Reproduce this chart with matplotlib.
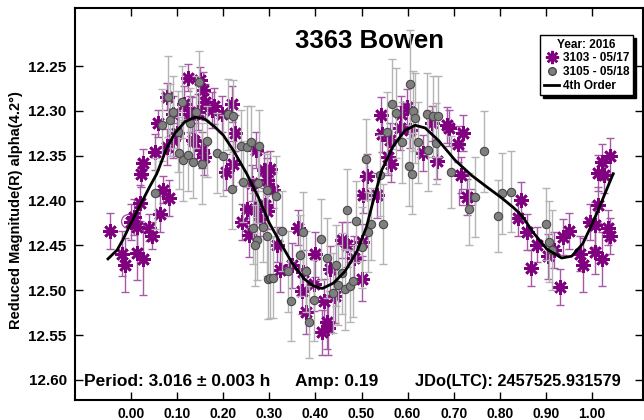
import matplotlib.pyplot as plt
from matplotlib.lines import Line2D

# 3103 - 05/17 (purple)
ph_a = [-0.046, -0.019, -0.013, 0.001, 0.007, 0.012, 0.014, 0.020, 0.027, 0.040,
        0.046, 0.063, 0.083, 0.070, 0.021, 0.027, 0.052, 0.059, 0.077, 0.092,
        0.116, 0.124, 0.132, 0.135, 0.150, 0.153, 0.157, 0.158, 0.160, 0.179,
        0.175, 0.197, 0.219, 0.092, 0.128, 0.146, 0.226, 0.099, 0.137, 0.271,
        0.077, 0.207, 0.222, 0.289, 0.263, 0.302, 0.294, 0.307, 0.240, 0.251,
        0.257, 0.269, 0.280, 0.291, 0.294, 0.316, 0.323, 0.349, 0.363, 0.374,
        0.370, 0.379, 0.397, 0.399, 0.419, 0.432, 0.443, 0.425, 0.428, 0.414,
        0.457, 0.468, 0.484, 0.502, 0.501, 0.511, 0.504, 0.533, 0.542, 0.545,
        0.558, 0.565, 0.562, 0.586, 0.598, 0.584, 0.605, 0.634, 0.652, 0.663,
        0.685, 0.690, 0.710, 0.721, 0.716, 0.728, 0.846, 0.840, 0.860, 0.880,
        0.868, 0.905, 0.918, 0.931, 0.936, 0.951, 0.974, 0.981, 0.996, 1.007,
        1.012, 1.007, 1.021, 1.034, 1.039, 1.014, 1.021, 1.040, 1.026]
mag_a = [12.434, 12.459, 12.472, 12.424, 12.418, 12.429, 12.458, 12.403, 12.465, 12.430,
         12.439, 12.415, 12.397, 12.388, 12.370, 12.358, 12.346, 12.314, 12.284, 12.333,
         12.292, 12.263, 12.305, 12.333, 12.266, 12.344, 12.277, 12.351, 12.290, 12.295,
         12.299, 12.303, 12.292, 12.303, 12.303, 12.301, 12.325, 12.325, 12.334, 12.344,
         12.340, 12.368, 12.359, 12.366, 12.380, 12.365, 12.377, 12.388, 12.424, 12.409,
         12.438, 12.409, 12.420, 12.405, 12.412, 12.449, 12.477, 12.472, 12.430, 12.480,
         12.501, 12.524, 12.493, 12.460, 12.512, 12.476, 12.506, 12.535, 12.542, 12.547,
         12.444, 12.449, 12.464, 12.487, 12.446, 12.373, 12.394, 12.394, 12.305, 12.326,
         12.351, 12.359, 12.333, 12.303, 12.296, 12.319, 12.321, 12.347, 12.314, 12.356,
         12.316, 12.319, 12.337, 12.325, 12.371, 12.396, 12.399, 12.419, 12.435, 12.449,
         12.475, 12.462, 12.455, 12.496, 12.441, 12.434, 12.459, 12.472, 12.424, 12.427,
         12.405, 12.457, 12.465, 12.430, 12.439, 12.369, 12.357, 12.350, 12.372]
err_a = [0.020, 0.025, 0.030, 0.020, 0.020, 0.025, 0.030, 0.020, 0.040, 0.015,
         0.015, 0.020, 0.020, 0.015, 0.015, 0.015, 0.020, 0.015, 0.015, 0.020,
         0.020, 0.015, 0.020, 0.020, 0.015, 0.020, 0.020, 0.020, 0.020, 0.020,
         0.020, 0.020, 0.020, 0.020, 0.020, 0.020, 0.020, 0.025, 0.020, 0.020,
         0.020, 0.020, 0.025, 0.020, 0.020, 0.020, 0.025, 0.020, 0.020, 0.025,
         0.025, 0.020, 0.020, 0.025, 0.020, 0.020, 0.025, 0.025, 0.020, 0.025,
         0.025, 0.025, 0.030, 0.025, 0.025, 0.025, 0.030, 0.030, 0.030, 0.025,
         0.020, 0.025, 0.025, 0.025, 0.020, 0.025, 0.020, 0.025, 0.020, 0.020,
         0.020, 0.020, 0.020, 0.020, 0.020, 0.025, 0.020, 0.020, 0.020, 0.020,
         0.020, 0.020, 0.020, 0.020, 0.020, 0.020, 0.020, 0.020, 0.020, 0.020,
         0.020, 0.025, 0.020, 0.020, 0.020, 0.020, 0.020, 0.030, 0.020, 0.025,
         0.020, 0.025, 0.030, 0.020, 0.020, 0.020, 0.020, 0.020, 0.020]

# 3105 - 05/18 (gray)
ph_b = [0.052, 0.067, 0.081, 0.085, 0.092, 0.110, 0.103, 0.105, 0.113, 0.124,
        0.135, 0.148, 0.153, 0.164, 0.187, 0.199, 0.129, 0.141, 0.211, 0.221,
        0.238, 0.251, 0.260, 0.278, 0.242, 0.218, 0.276, 0.294, 0.315, 0.265,
        0.273, 0.270, 0.286, 0.294, 0.298, 0.302, 0.309, 0.328, 0.340, 0.347,
        0.367, 0.374, 0.379, 0.386, 0.398, 0.412, 0.425, 0.438, 0.444, 0.450,
        0.457, 0.464, 0.475, 0.482, 0.468, 0.487, 0.501, 0.515, 0.521, 0.547,
        0.510, 0.541, 0.555, 0.567, 0.575, 0.587, 0.605, 0.612, 0.617, 0.623,
        0.603, 0.610, 0.643, 0.654, 0.665, 0.645, 0.661, 0.694, 0.766, 0.733,
        0.746, 0.804, 0.824, 0.797, 0.900, 0.907, 0.914]
mag_b = [12.392, 12.316, 12.284, 12.310, 12.301, 12.290, 12.323, 12.347, 12.355, 12.349,
         12.357, 12.268, 12.359, 12.334, 12.347, 12.350, 12.314, 12.301, 12.304, 12.306,
         12.339, 12.340, 12.335, 12.339, 12.379, 12.387, 12.380, 12.388, 12.395, 12.431,
         12.444, 12.450, 12.429, 12.439, 12.487, 12.486, 12.486, 12.434, 12.479, 12.512,
         12.461, 12.435, 12.479, 12.535, 12.511, 12.443, 12.464, 12.503, 12.472, 12.494,
         12.481, 12.499, 12.495, 12.490, 12.410, 12.423, 12.452, 12.435, 12.426, 12.426,
         12.354, 12.372, 12.324, 12.292, 12.302, 12.335, 12.270, 12.300, 12.308, 12.335,
         12.361, 12.370, 12.303, 12.306, 12.306, 12.344, 12.336, 12.368, 12.345, 12.409,
         12.396, 12.392, 12.390, 12.417, 12.426, 12.446, 12.455]
err_b = [0.040, 0.040, 0.045, 0.040, 0.040, 0.040, 0.045, 0.040, 0.045, 0.040,
         0.040, 0.035, 0.045, 0.040, 0.045, 0.045, 0.040, 0.040, 0.040, 0.040,
         0.040, 0.045, 0.040, 0.040, 0.045, 0.045, 0.045, 0.040, 0.045, 0.040,
         0.045, 0.045, 0.040, 0.045, 0.045, 0.045, 0.045, 0.045, 0.045, 0.045,
         0.045, 0.045, 0.045, 0.040, 0.045, 0.045, 0.045, 0.045, 0.045, 0.045,
         0.045, 0.045, 0.040, 0.040, 0.045, 0.045, 0.045, 0.045, 0.040, 0.045,
         0.045, 0.045, 0.045, 0.050, 0.050, 0.045, 0.060, 0.045, 0.050, 0.045,
         0.045, 0.045, 0.045, 0.045, 0.045, 0.045, 0.045, 0.040, 0.045, 0.040,
         0.045, 0.045, 0.045, 0.040, 0.040, 0.045, 0.045]

# 4th order fit
fit_ph = [-0.050, -0.030, -0.017, 0.000, 0.020, 0.040, 0.056, 0.077, 0.095, 0.117,
          0.139, 0.160, 0.182, 0.200, 0.222, 0.251, 0.276, 0.300, 0.325, 0.350,
          0.375, 0.395, 0.415, 0.439, 0.464, 0.490, 0.511, 0.526, 0.544, 0.569,
          0.594, 0.616, 0.638, 0.667, 0.703, 0.739, 0.775, 0.804, 0.830, 0.848,
          0.873, 0.902, 0.934, 0.956, 0.980, 1.003, 1.021, 1.046]
fit_mag = [12.465, 12.455, 12.443, 12.425, 12.405, 12.385, 12.370, 12.342, 12.325, 12.312,
           12.307, 12.309, 12.318, 12.327, 12.344, 12.370, 12.396, 12.425, 12.448, 12.470,
           12.487, 12.495, 12.498, 12.492, 12.479, 12.457, 12.429, 12.399, 12.366, 12.339,
           12.322, 12.316, 12.319, 12.333, 12.355, 12.372, 12.386, 12.397, 12.408, 12.417,
           12.436, 12.454, 12.464, 12.462, 12.448, 12.423, 12.401, 12.370]

xticks = [0.0, 0.1, 0.2, 0.3, 0.4, 0.5, 0.6, 0.7, 0.8, 0.9, 1.0]
yticks = [12.25, 12.30, 12.35, 12.40, 12.45, 12.50, 12.55, 12.60]

purple = '#800080'
plt.rcParams['font.family'] = 'Liberation Sans'
plt.rcParams['font.weight'] = 'bold'

fig = plt.figure(figsize=(6.44, 4.2), dpi=100)
ax = fig.add_axes([75/644, 20/420, 568/644, 392/420])

ax.errorbar(ph_a, mag_a, yerr=err_a, fmt='none', ecolor='#a55aa5', elinewidth=1,
            capsize=3, capthick=1, zorder=2)
ax.plot(ph_a, mag_a, ls='none', marker=(8, 2, 0), ms=10.5, mew=1.9, color=purple, zorder=3)
ax.errorbar(ph_b, mag_b, yerr=err_b, fmt='none', ecolor='#b4b4b4', elinewidth=1,
            capsize=3, capthick=1, zorder=4)
ax.plot(ph_b, mag_b, ls='none', marker='o', ms=6, mfc='#7f7f7f', mec='#4a4a4a',
        mew=0.8, zorder=5)
# highlighted points
ax.plot([-0.006], [12.423], ls='none', marker='o', ms=10, mfc='none', mec='#a55aa5', mew=1)
ax.plot([0.728], [12.396], ls='none', marker='s', ms=11, mfc='none', mec='#a55aa5', mew=1)
ax.plot(fit_ph, fit_mag, color='black', lw=2, zorder=6)

ax.set_xlim(-0.1215, 1.1106)
ax.set_ylim(12.6223, 12.1853)
ax.set_xticks(xticks)
ax.set_yticks(yticks)
ax.set_xticklabels(['%.2f' % t for t in xticks])
ax.set_yticklabels(['%.2f' % t for t in yticks])
ax.tick_params(direction='in', top=True, right=True, length=6, width=1)
ax.tick_params(axis='y', labelsize=11, pad=6)
ax.tick_params(axis='x', labelsize=10, pad=5)
for s in ax.spines.values():
    s.set_linewidth(1.5)

ax.text(0.518, 12.222, '3363 Bowen', fontsize=18.5, fontweight='bold', ha='center', va='center')
ax.text(-0.102, 12.602, 'Period: 3.016 \u00b1 0.003 h', fontsize=12.5, fontweight='bold',
        ha='left', va='center')
ax.text(0.356, 12.602, 'Amp: 0.19', fontsize=12.5, fontweight='bold', ha='left', va='center')
ax.text(0.616, 12.602, 'JDo(LTC): 2457525.931579', fontsize=11.8, fontweight='bold',
        ha='left', va='center')
fig.text(16/644, 0.5, 'Reduced Magnitude(R) alpha(4.2\u00b0)', rotation=90, fontsize=10.5,
         fontweight='bold', ha='center', va='center')

handles = [Line2D([], [], ls='none', marker=(8, 2, 0), ms=9.5, mew=1.8, color=purple),
           Line2D([], [], ls='none', marker='o', ms=5.5, mfc='#7f7f7f', mec='#4a4a4a'),
           Line2D([], [], color='black', lw=2)]
leg = ax.legend(handles, ['3103 - 05/17', '3105 - 05/18', '4th Order'],
                loc='upper right', bbox_to_anchor=(0.982, 0.931),
                title='Year: 2016', title_fontproperties={'weight': 'bold', 'size': 8.5},
                prop={'weight': 'bold', 'size': 8.5}, fancybox=False,
                shadow={'color': 'black', 'alpha': 1}, framealpha=1,
                handlelength=1.3, handletextpad=0.3, labelspacing=0.15, borderpad=0.3,
                borderaxespad=0)
leg.get_frame().set_edgecolor('black')
leg.get_frame().set_linewidth(1)

fig.savefig('out.png', dpi=100)
